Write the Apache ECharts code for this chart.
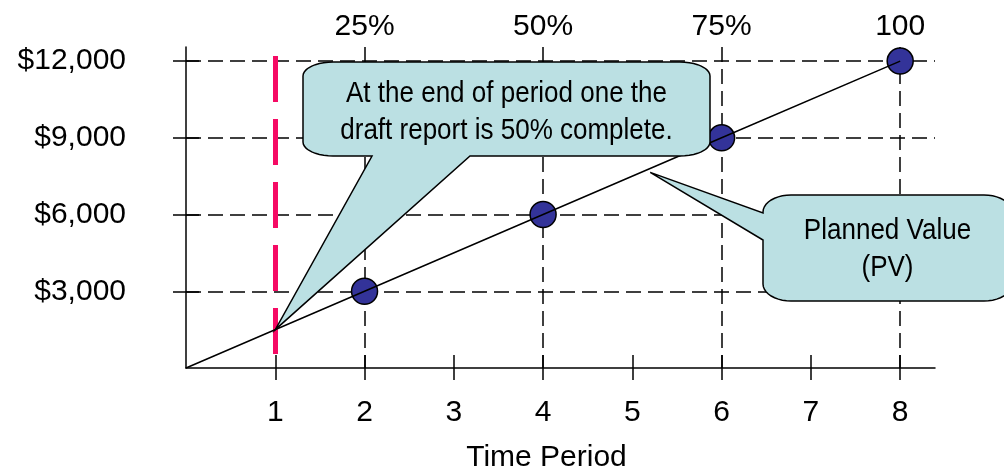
<!DOCTYPE html>
<html><head><meta charset="utf-8">
<script src="https://cdn.jsdelivr.net/npm/echarts@6/dist/echarts.min.js"></script>
<style>html,body{margin:0;padding:0;background:#fff}#c{width:1004px;height:470px}</style>
</head><body><div id="c"></div>
<script>
// ---- data ----
const periods = [0, 2, 4, 6, 8];
const plannedValue = [0, 3000, 6000, 9000, 12000];
const xTickValues = [1, 2, 3, 4, 5, 6, 7, 8];
const yTickValues = [3000, 6000, 9000, 12000];
const topTickValues = [2, 4, 6, 8];
const topTickLabels = ['25%', '50%', '75%', '100'];
const reportPeriod = 1;
const calloutText1 = ['At the end of period one the', 'draft report is 50% complete.'];
const calloutText2 = ['Planned Value', '(PV)'];
const calloutTip1 = [1, 1500];
const calloutTip2 = [5.2, 7650];

// ---- layout / style ----
const X_MAX = 8.39, Y_MAX = 12550;
const FONT = '"Liberation Sans", Arial, sans-serif';
const BLACK = '#000';
const BUBBLE = '#bbe0e3';
const RED = '#f50a64';
const pts = periods.map((p, i) => [p, plannedValue[i]]);

const chart = echarts.init(document.getElementById('c'), null, { renderer: 'canvas' });

const dash = [15, 7];
const dashedGuides = [];
yTickValues.forEach(v => dashedGuides.push([{ coord: [0, v] }, { coord: [X_MAX, v] }]));
topTickValues.forEach(v => dashedGuides.push([{ coord: [v, Y_MAX] }, { coord: [v, 0] }]));

// inner halves of the crossing ticks (13px long)
const pxX = X_MAX / 749, pxY = Y_MAX / 321;
const innerTicks = [];
yTickValues.forEach(v => innerTicks.push([{ coord: [0, v] }, { coord: [13 * pxX, v] }]));
xTickValues.forEach(v => innerTicks.push([{ coord: [v, 0] }, { coord: [v, 13 * pxY] }]));

const baseX = { type: 'value', min: 0, max: X_MAX, splitLine: { show: false } };

chart.setOption({
  animation: false,
  backgroundColor: '#fff',
  grid: { left: 186, right: 69, top: 47, bottom: 102, containLabel: false, outerBoundsMode: 'none' },
  xAxis: [
    Object.assign({}, baseX, {
      position: 'bottom',
      axisLine: { show: true, lineStyle: { color: BLACK, width: 1.5 } },
      axisTick: { show: true, customValues: xTickValues, length: 12, lineStyle: { color: BLACK, width: 1.5 } },
      axisLabel: { show: true, customValues: xTickValues, margin: 30, fontSize: 30, fontFamily: FONT, color: BLACK },
      name: 'Time Period', nameLocation: 'middle', nameGap: 75,
      nameTextStyle: { fontSize: 30, fontFamily: FONT, color: BLACK, padding: [0, 28, 0, 0] }
    }),
    Object.assign({}, baseX, {
      position: 'top',
      axisLine: { show: false },
      axisTick: { show: false },
      axisLabel: {
        show: true, customValues: topTickValues, margin: 5, fontSize: 30, fontFamily: FONT, color: BLACK,
        formatter: v => { const i = topTickValues.indexOf(v); return i >= 0 ? topTickLabels[i] : ''; }
      }
    })
  ],
  yAxis: [{
    type: 'value', min: 0, max: Y_MAX,
    splitLine: { show: false },
    axisLine: { show: true, lineStyle: { color: BLACK, width: 1.5 } },
    axisTick: { show: true, customValues: yTickValues, length: 13, lineStyle: { color: BLACK, width: 1.5 } },
    axisLabel: {
      show: true, customValues: yTickValues, margin: 60, fontSize: 30, fontFamily: FONT, color: BLACK,
      padding: [11, 0, 0, 0],
      formatter: v => '$' + v.toLocaleString('en-US')
    }
  }],
  series: [
    {
      name: 'guides', type: 'line', z: 1, silent: true,
      data: pts, showSymbol: false, symbol: 'none', lineStyle: { opacity: 0 },
      markLine: {
        z: 1, silent: true, symbol: ['none', 'none'], label: { show: false },
        lineStyle: { color: BLACK, width: 1.5, type: dash },
        emphasis: { disabled: true },
        data: dashedGuides
      }
    },
    {
      name: 'ticks', type: 'line', z: 1, silent: true,
      data: pts, showSymbol: false, symbol: 'none', lineStyle: { opacity: 0 },
      markLine: {
        z: 1, silent: true, symbol: ['none', 'none'], label: { show: false },
        lineStyle: { color: BLACK, width: 1.5, type: 'solid' },
        emphasis: { disabled: true },
        data: innerTicks
      }
    },
    {
      name: 'report', type: 'line', z: 1, silent: true,
      data: pts, showSymbol: false, symbol: 'none', lineStyle: { opacity: 0 },
      markLine: {
        z: 1, silent: true, symbol: ['none', 'none'], label: { show: false },
        lineStyle: { color: RED, width: 5, type: [46, 17], cap: 'butt' },
        emphasis: { disabled: true },
        data: [[{ coord: [reportPeriod, 12200] }, { coord: [reportPeriod, 500] }]]
      }
    },
    {
      name: 'markers', type: 'scatter', z: 2,
      data: pts.filter(p => p[1] > 0), symbol: 'circle', symbolSize: 26,
      itemStyle: { color: '#333399', borderColor: BLACK, borderWidth: 1.5, opacity: 1 }
    },
    {
      name: 'Planned Value', type: 'line', z: 3,
      data: pts, showSymbol: false, symbol: 'none',
      lineStyle: { color: BLACK, width: 1.5 }
    }
  ]
});

// ---- callouts (polygons with elliptical corners) ----
function arc(out, cx, cy, rx, ry, a0, a1) {
  const n = 10;
  for (let i = 0; i <= n; i++) {
    const a = a0 + (a1 - a0) * i / n;
    out.push([cx + rx * Math.cos(a), cy + ry * Math.sin(a)]);
  }
}
function bubblePoints(L, T, R, B, rx, ry, tail) {
  const P = [], PI = Math.PI;
  arc(P, L + rx, T + ry, rx, ry, PI, 1.5 * PI);           // top-left
  arc(P, R - rx, T + ry, rx, ry, 1.5 * PI, 2 * PI);       // top-right
  arc(P, R - rx, B - ry, rx, ry, 0, 0.5 * PI);            // bottom-right
  if (tail.side === 'bottom') { P.push([tail.b, B], tail.tip, [tail.a, B]); }
  arc(P, L + rx, B - ry, rx, ry, 0.5 * PI, PI);           // bottom-left
  if (tail.side === 'left') { P.push([L, tail.b], tail.tip, [L, tail.a]); }
  return P;
}
function textEl(lines, cx, cy) {
  return {
    type: 'text', x: cx, y: cy, z: 5, scaleX: 0.867, scaleY: 1, silent: true,
    style: {
      text: lines.join('\n'), font: '30px ' + FONT, fill: BLACK,
      align: 'center', verticalAlign: 'middle', lineHeight: 37
    }
  };
}
const tip1 = chart.convertToPixel({ xAxisIndex: 0, yAxisIndex: 0 }, calloutTip1);
const tip2 = chart.convertToPixel({ xAxisIndex: 0, yAxisIndex: 0 }, calloutTip2);
const b1 = { L: 303, T: 62, R: 710, B: 156 };
const b2 = { L: 763, T: 195, R: 1012, B: 301 };
chart.setOption({
  graphic: {
    elements: [
      {
        type: 'polygon', z: 4, silent: true,
        shape: { points: bubblePoints(b1.L, b1.T, b1.R, b1.B, 30, 14, { side: 'bottom', a: 372, b: 470, tip: tip1 }) },
        style: { fill: BUBBLE, stroke: BLACK, lineWidth: 1.5, lineJoin: 'miter' }
      },
      textEl(calloutText1, (b1.L + b1.R) / 2, (b1.T + b1.B) / 2 + 3),
      {
        type: 'polygon', z: 4, silent: true,
        shape: { points: bubblePoints(b2.L, b2.T, b2.R, b2.B, 28, 17, { side: 'left', a: 213, b: 240, tip: tip2 }) },
        style: { fill: BUBBLE, stroke: BLACK, lineWidth: 1.5, lineJoin: 'miter' }
      },
      textEl(calloutText2, (b2.L + b2.R) / 2, (b2.T + b2.B) / 2 + 1)
    ]
  }
});
</script>
</body></html>
